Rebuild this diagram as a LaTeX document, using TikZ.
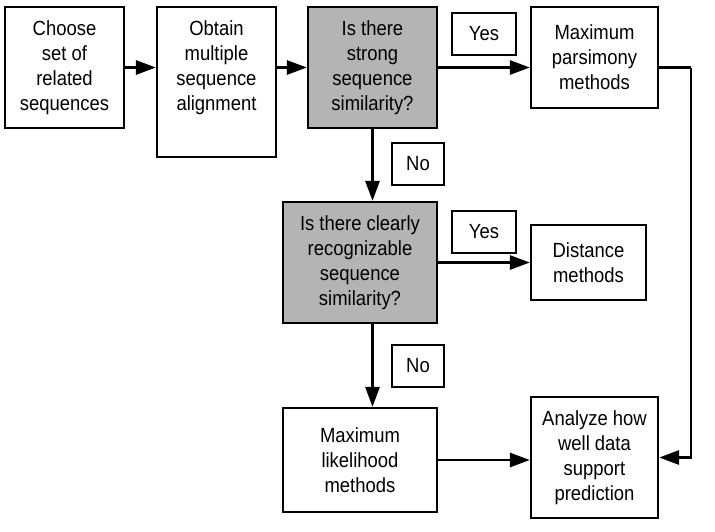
\documentclass[tikz,border=0pt]{standalone}
\usepackage{fontspec}
\setmainfont[FakeStretch=0.9]{Liberation Sans}
\usetikzlibrary{arrows.meta}
\definecolor{boxgray}{RGB}{180,180,180}
\begin{document}
\begin{tikzpicture}[x=1pt,y=-1pt,
  box/.style={draw=black, line width=2.2pt, fill=white, align=center, inner sep=0pt,
    font=\fontsize{20.5}{25}\selectfont},
  qbox/.style={box, fill=boxgray},
  txt/.style={align=center, inner sep=0pt, font=\fontsize{20.5}{25}\selectfont},
  lab/.style={draw=black, line width=1.8pt, fill=white, inner sep=0pt,
    font=\fontsize{20.5}{25}\selectfont},
  conn/.style={line width=2.8pt, -{Triangle[length=20pt,width=14pt]}},
  plain/.style={line width=2.8pt}
]
\useasboundingbox (0,0) rectangle (715,531);
\fill[white] (0,0) rectangle (715,531);

\node[box, minimum width=119, minimum height=121] (b1) at (64.5,67.5)
  {Choose\\set of\\related\\sequences};
\node[box, minimum width=119, minimum height=150] (b2) at (216.5,82) {};
\node[txt] (b2t) at (216.5,67.5) {Obtain\\multiple\\sequence\\alignment};
\node[qbox, minimum width=129, minimum height=121] (b3) at (372.5,67.5)
  {Is there\\strong\\sequence\\similarity?};
\node[lab, minimum width=64, minimum height=42] (yes1) at (484,34) {Yes};
\node[box, minimum width=127, minimum height=101] (b5) at (594.5,57.5)
  {Maximum\\parsimony\\methods};
\node[lab, minimum width=52, minimum height=42] (no1) at (418,164) {No};
\node[qbox, minimum width=154, minimum height=121] (b7) at (360,262.5)
  {Is there clearly\\recognizable\\sequence\\similarity?};
\node[lab, minimum width=64, minimum height=42] (yes2) at (484,232) {Yes};
\node[box, minimum width=115, minimum height=75] (dist) at (588.5,262.5)
  {Distance\\methods};
\node[lab, minimum width=52, minimum height=42] (no2) at (418,366) {No};
\node[box, minimum width=154, minimum height=104] (ml) at (360,460)
  {Maximum\\likelihood\\methods};
\node[box, minimum width=127, minimum height=121] (an) at (594.5,457.5)
  {Analyze how\\well data\\support\\prediction};

\draw[conn] (b1.east) -- (b2.west |- b1.east);
\draw[conn] (b2.west |- b1.east) ++(119,0) -- (b3.west);
\draw[conn] (b3.east) -- (b5.west |- b3.east);
\coordinate (rt) at (691,67.5);
\draw[plain] (b5.east |- b3.east) -- (rt);
\draw[conn] (rt) |- (an.east);
\draw[conn] (b3.south) -- (b3.south |- b7.north);
\draw[conn] (b7.east) -- (dist.west);
\draw[conn] (b3.south |- b7.south) -- (b3.south |- ml.north);
\draw[conn] (ml.east) -- (an.west |- ml.east);
\end{tikzpicture}
\end{document}
